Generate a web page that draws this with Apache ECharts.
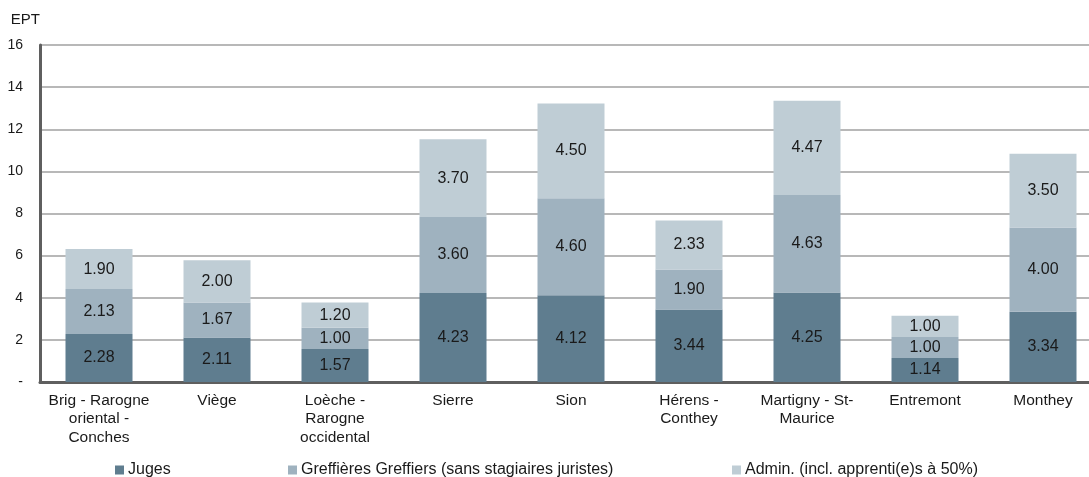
<!DOCTYPE html>
<html>
<head>
<meta charset="utf-8">
<script src="https://cdn.jsdelivr.net/npm/echarts@6/dist/echarts.min.js"></script>
<style>
html,body{margin:0;padding:0;background:#fff;overflow:hidden;}
/* the drawing surface is a little wider than the page, so the plot runs past the right edge */
#chart{width:1102px;height:477px;}
</style>
</head>
<body>
<div id="chart"></div>
<script>
const categories = [
  'Brig - Rarogne\noriental -\nConches',
  'Viège',
  'Loèche -\nRarogne\noccidental',
  'Sierre',
  'Sion',
  'Hérens -\nConthey',
  'Martigny - St-\nMaurice',
  'Entremont',
  'Monthey'
];
const juges = [2.28, 2.11, 1.57, 4.23, 4.12, 3.44, 4.25, 1.14, 3.34];
const greffiers = [2.13, 1.67, 1.00, 3.60, 4.60, 1.90, 4.63, 1.00, 4.00];
const admin = [1.90, 2.00, 1.20, 3.70, 4.50, 2.33, 4.47, 1.00, 3.50];
const seriesNames = ['Juges', 'Greffières Greffiers (sans stagiaires juristes)', 'Admin. (incl. apprenti(e)s à 50%)'];
const colors = ['#5f7d8f', '#9fb2bf', '#bfcdd5'];

const font = 'Liberation Sans, Arial, sans-serif';
const textColor = '#1a1a1a';
const chart = echarts.init(document.getElementById('chart'));

function barSeries(name, data, color) {
  return {
    name: name,
    type: 'bar',
    stack: 'ept',
    data: data,
    barWidth: 67,
    itemStyle: { color: color },
    label: {
      show: true,
      position: 'inside',
      formatter: p => p.value.toFixed(2),
      color: textColor,
      fontFamily: font,
      fontSize: 16
    }
  };
}

function legendAt(left, name) {
  return {
    left: left,
    top: 462,
    padding: 0,
    data: [name],
    icon: 'rect',
    itemWidth: 9,
    itemHeight: 9,
    textStyle: { fontFamily: font, fontSize: 16, color: textColor, padding: [0, 0, 0, -1] }
  };
}

chart.setOption({
  animation: false,
  color: colors,
  legend: [
    legendAt(115, seriesNames[0]),
    legendAt(288, seriesNames[1]),
    legendAt(732, seriesNames[2])
  ],
  grid: { left: 40, right: 0, top: 45, height: 337, containLabel: false },
  xAxis: {
    type: 'category',
    data: categories,
    axisTick: { show: false },
    axisLine: { lineStyle: { color: '#5f5f5f', width: 3 } },
    axisLabel: {
      interval: 0,
      color: textColor,
      fontFamily: font,
      fontSize: 15.5,
      lineHeight: 18.5,
      margin: 9
    }
  },
  yAxis: {
    type: 'value',
    name: 'EPT',
    nameLocation: 'end',
    nameGap: 18,
    nameTextStyle: { color: textColor, fontFamily: font, fontSize: 15, align: 'right' },
    min: 0,
    max: 16,
    interval: 2,
    axisLine: { show: true, lineStyle: { color: '#5f5f5f', width: 3 } },
    axisTick: { show: false },
    splitLine: { lineStyle: { color: '#a0a0a0', width: 1.5 } },
    axisLabel: {
      color: textColor,
      fontFamily: font,
      fontSize: 14,
      margin: 17,
      align: 'right',
      formatter: v => v === 0 ? '-' : String(v)
    }
  },
  series: [
    barSeries(seriesNames[0], juges, colors[0]),
    barSeries(seriesNames[1], greffiers, colors[1]),
    barSeries(seriesNames[2], admin, colors[2])
  ]
});
</script>
</body>
</html>
